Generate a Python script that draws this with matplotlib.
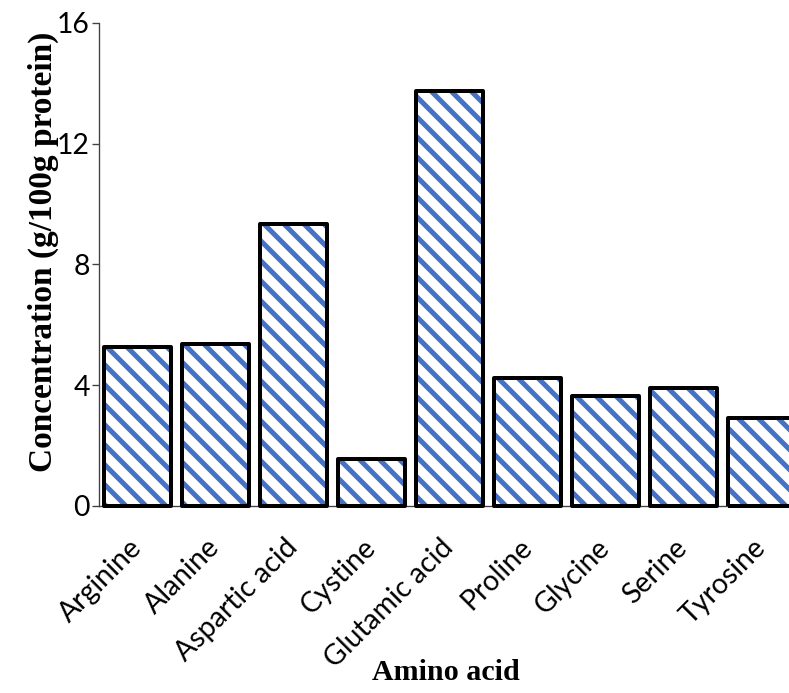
import matplotlib
matplotlib.use('Agg')
import matplotlib.pyplot as plt
import matplotlib.transforms as mtransforms
import numpy as np

amino_acids = ['Arginine', 'Alanine', 'Aspartic acid', 'Cystine', 'Glutamic acid',
               'Proline', 'Glycine', 'Serine', 'Tyrosine']
concentration = [5.27, 5.37, 9.35, 1.56, 13.75, 4.24, 3.64, 3.91, 2.91]
y_ticks = [0, 4, 8, 12, 16]

W, H, DPI = 789, 693, 120
plt.rcParams['hatch.linewidth'] = 3.0

fig = plt.figure(figsize=(W / DPI, H / DPI), dpi=DPI)
ax = fig.add_axes([99 / W, 1 - 506 / H, (800 - 99) / W, (506 - 23) / H])

x = np.arange(len(amino_acids))
# hatch drawn in blue, outline drawn separately in black
ax.bar(x, concentration, width=0.86, color='white', edgecolor='#4472C4',
       hatch='\\\\', linewidth=0, zorder=2)
ax.bar(x, concentration, width=0.86, color='none', edgecolor='black',
       linewidth=2.4, joinstyle='round', zorder=3, clip_on=False)

ax.set_xlim(-0.5, len(amino_acids) - 0.5)
ax.set_ylim(0, 16)
ax.set_yticks(y_ticks)
ax.set_yticklabels([str(v) for v in y_ticks], family='Lato', fontsize=17)
ax.tick_params(axis='y', length=4.5, width=0.8, color='#404040', pad=1)
ax.tick_params(axis='x', length=0, pad=8)
ax.set_xticks(x)
ax.set_xticklabels(amino_acids, rotation=45, ha='right', rotation_mode='anchor',
                   family='Lato', fontsize=17)
shift = mtransforms.ScaledTranslation(-9 / DPI, -15 / DPI, fig.dpi_scale_trans)
for lbl in ax.get_xticklabels():
    lbl.set_transform(lbl.get_transform() + shift)

for side in ['top', 'right']:
    ax.spines[side].set_visible(False)
for side in ['left', 'bottom']:
    ax.spines[side].set_linewidth(0.8)
    ax.spines[side].set_color('#404040')

fig.text(446 / W, 1 - 672 / H, 'Amino acid', family='Liberation Serif',
         fontweight='bold', fontsize=18, ha='center', va='center')
fig.text(43 / W, 1 - 252 / H, 'Concentration (g/100g protein)', family='Liberation Serif',
         fontweight='bold', fontsize=20, ha='center', va='center', rotation=90)

fig.savefig('out.png', dpi=DPI)
